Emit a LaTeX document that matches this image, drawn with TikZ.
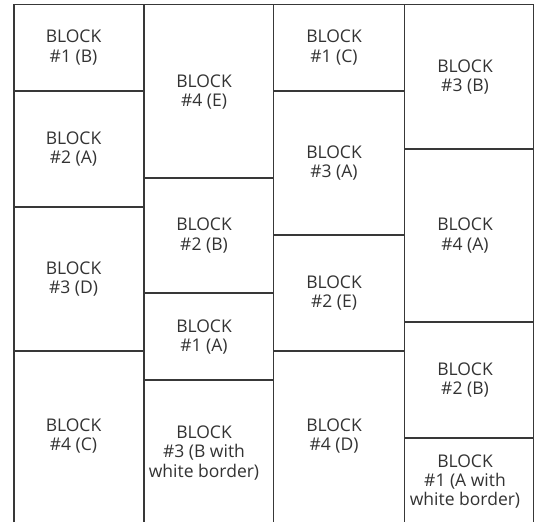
\documentclass[tikz,border=0pt]{standalone}
\usepackage{fontspec}
\setmainfont{Open Sans}
\begin{document}
\begin{tikzpicture}[x=1pt,y=-1pt,
  gridline/.style={draw=black!78,line width=1.7pt},
  blk/.style={align=center,font=\fontsize{17.5}{19.2}\selectfont,text=black!80,inner sep=0pt}]
\useasboundingbox[fill=white] (0,0) rectangle (535,523);
% columns: 14, 144, 273.5, 404.5, 533.5 ; top 4.5 ; bottom 522
\draw[gridline] (14,522) -- (14,4.5) -- (533.5,4.5) -- (533.5,522);
\draw[gridline] (144,4.5) -- (144,522);
\draw[gridline] (273.5,4.5) -- (273.5,522);
\draw[gridline] (404.5,4.5) -- (404.5,522);
% column 1 rows
\draw[gridline] (14,90.7) -- (144,90.7);
\draw[gridline] (14,206.7) -- (144,206.7);
\draw[gridline] (14,350.7) -- (144,350.7);
% column 2 rows
\draw[gridline] (144,177.7) -- (273.5,177.7);
\draw[gridline] (144,293.3) -- (273.5,293.3);
\draw[gridline] (144,380.3) -- (273.5,380.3);
% column 3 rows
\draw[gridline] (273.5,90.7) -- (404.5,90.7);
\draw[gridline] (273.5,235.3) -- (404.5,235.3);
\draw[gridline] (273.5,350.7) -- (404.5,350.7);
% column 4 rows
\draw[gridline] (404.5,149.3) -- (533.5,149.3);
\draw[gridline] (404.5,321.7) -- (533.5,321.7);
\draw[gridline] (404.5,438.3) -- (533.5,438.3);
% texts
\node[blk] (a1) at (73.5,47.6) {BLOCK\\\#1 (B)};
\node[blk] (a2) at (73.5,148.7) {BLOCK\\\#2 (A)};
\node[blk] (a3) at (73.5,278.7) {BLOCK\\\#3 (D)};
\node[blk] (a4) at (73.5,436.3) {BLOCK\\\#4 (C)};
\node[blk] (b1) at (204,92) {BLOCK\\\#4 (E)};
\node[blk] (b2) at (204,235.5) {BLOCK\\\#2 (B)};
\node[blk] (b3) at (204,336.8) {BLOCK\\\#1 (A)};
\node[blk] (b4) at (204,453) {BLOCK\\\#3 (B with\\white border)};
\node[blk] (c1) at (334,47.6) {BLOCK\\\#1 (C)};
\node[blk] (c2) at (334,163) {BLOCK\\\#3 (A)};
\node[blk] (c3) at (334,293) {BLOCK\\\#2 (E)};
\node[blk] (c4) at (334,436.3) {BLOCK\\\#4 (D)};
\node[blk] (d1) at (465,77) {BLOCK\\\#3 (B)};
\node[blk] (d2) at (465,235.5) {BLOCK\\\#4 (A)};
\node[blk] (d3) at (465,380) {BLOCK\\\#2 (B)};
\node[blk] (d4) at (465,481.7) {BLOCK\\\#1 (A with\\white border)};
\end{tikzpicture}
\end{document}
